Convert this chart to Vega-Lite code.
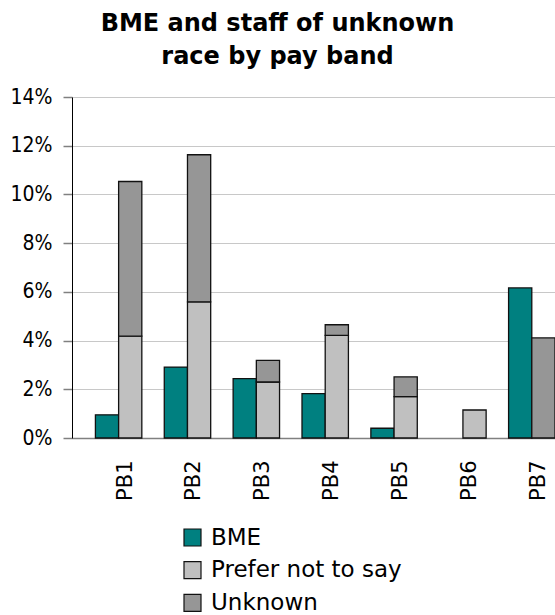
{
  "$schema": "https://vega.github.io/schema/vega-lite/v6.json",
  "autosize": {"type": "none"},
  "padding": {"left": 72, "top": 97, "right": 0, "bottom": 177},
  "width": 483,
  "height": 341,
  "background": "white",
  "config": {
    "font": "DejaVu Sans, sans-serif",
    "view": {"stroke": null}
  },
  "title": {
    "text": ["BME and staff of unknown", "race by pay band"],
    "font": "DejaVu Sans, sans-serif",
    "fontSize": 24,
    "fontWeight": "bold",
    "color": "#000000",
    "anchor": "middle",
    "frame": "group",
    "lineHeight": 33,
    "dx": -36,
    "offset": 17.5
  },
  "data": {
    "values": [
      {"band": "PB1", "group": "BME", "race": "BME", "value": 0.0095},
      {"band": "PB1", "group": "Other", "race": "Prefer not to say", "value": 0.0418},
      {"band": "PB1", "group": "Other", "race": "Unknown", "value": 0.0635},
      {"band": "PB2", "group": "BME", "race": "BME", "value": 0.0291},
      {"band": "PB2", "group": "Other", "race": "Prefer not to say", "value": 0.0559},
      {"band": "PB2", "group": "Other", "race": "Unknown", "value": 0.0604},
      {"band": "PB3", "group": "BME", "race": "BME", "value": 0.0244},
      {"band": "PB3", "group": "Other", "race": "Prefer not to say", "value": 0.0230},
      {"band": "PB3", "group": "Other", "race": "Unknown", "value": 0.0089},
      {"band": "PB4", "group": "BME", "race": "BME", "value": 0.0182},
      {"band": "PB4", "group": "Other", "race": "Prefer not to say", "value": 0.0421},
      {"band": "PB4", "group": "Other", "race": "Unknown", "value": 0.0044},
      {"band": "PB5", "group": "BME", "race": "BME", "value": 0.0040},
      {"band": "PB5", "group": "Other", "race": "Prefer not to say", "value": 0.0170},
      {"band": "PB5", "group": "Other", "race": "Unknown", "value": 0.0081},
      {"band": "PB6", "group": "BME", "race": "BME", "value": 0},
      {"band": "PB6", "group": "Other", "race": "Prefer not to say", "value": 0.0115},
      {"band": "PB6", "group": "Other", "race": "Unknown", "value": 0},
      {"band": "PB7", "group": "BME", "race": "BME", "value": 0.0616},
      {"band": "PB7", "group": "Other", "race": "Prefer not to say", "value": 0},
      {"band": "PB7", "group": "Other", "race": "Unknown", "value": 0.0411}
    ]
  },
  "transform": [
    {"stack": "value", "groupby": ["band", "group"], "sort": [{"field": "race", "order": "ascending"}], "as": ["v0", "v1"]},
    {"filter": "datum.value > 0"}
  ],
  "mark": {"type": "bar", "stroke": "#111111", "strokeWidth": 1.3},
  "encoding": {
    "x": {
      "field": "band",
      "type": "nominal",
      "scale": {"paddingInner": 0.326, "paddingOuter": 0.17, "align": 1},
      "axis": {
        "title": null,
        "labelAngle": 270,
        "labelFont": "DejaVu Sans, sans-serif",
        "labelFontSize": 21,
        "labelColor": "#000000",
        "labelPadding": 22,
        "labelOffset": 7,
        "ticks": false,
        "domainColor": "#808080",
        "domainWidth": 1.5
      }
    },
    "xOffset": {"field": "group", "type": "nominal", "scale": {"paddingInner": 0, "paddingOuter": 0}},
    "y": {
      "field": "v0",
      "type": "quantitative",
      "scale": {"domain": [0, 0.14], "nice": false},
      "axis": {
        "title": null,
        "values": [0, 0.02, 0.04, 0.06, 0.08, 0.1, 0.12, 0.14],
        "format": ".0%",
        "labelFont": "DejaVu Sans Condensed, DejaVu Sans, sans-serif",
        "labelFontSize": 21,
        "labelColor": "#000000",
        "labelPadding": 11,
        "tickSize": 9,
        "tickColor": "#808080",
        "tickWidth": 1.5,
        "domainColor": "#000000",
        "domainWidth": 1,
        "gridColor": "#c8c8c8",
        "gridWidth": 1
      }
    },
    "y2": {"field": "v1"},
    "color": {
      "field": "race",
      "type": "nominal",
      "scale": {"domain": ["BME", "Prefer not to say", "Unknown"], "range": ["#008080", "#C0C0C0", "#969696"]},
      "legend": {
        "title": null,
        "orient": "none",
        "legendX": 109,
        "legendY": 429,
        "symbolType": "square",
        "symbolSize": 289,
        "symbolStrokeColor": "#111111",
        "symbolStrokeWidth": 1.2,
        "labelFont": "DejaVu Sans, sans-serif",
        "labelFontSize": 23,
        "labelColor": "#000000",
        "labelOffset": 7,
        "labelLimit": 400,
        "rowPadding": 8.7
      }
    }
  }
}
